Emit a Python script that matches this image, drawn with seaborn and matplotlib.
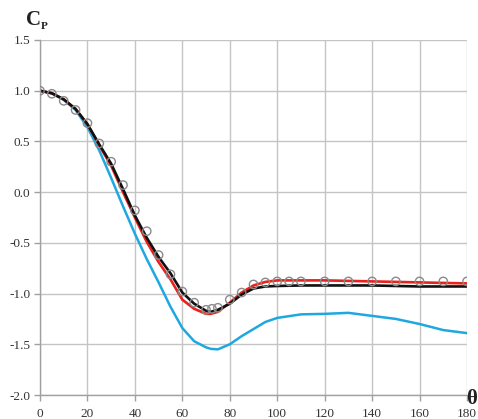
import matplotlib
matplotlib.use("Agg")
import matplotlib.pyplot as plt
import seaborn as sns
import pandas as pd

# ---- data ----
theta_line = [0, 5, 10, 15, 20, 25, 30, 35, 40, 45, 50, 55, 60, 65, 70, 72,
              75, 80, 85, 90, 95, 100, 110, 120, 130, 140, 150, 160, 170, 180]
cp_black = [1.0, 0.975, 0.915, 0.82, 0.67, 0.47, 0.28, 0.03, -0.23, -0.45, -0.64,
            -0.80, -0.99, -1.10, -1.17, -1.18, -1.16, -1.10, -1.01, -0.95, -0.93,
            -0.925, -0.92, -0.92, -0.92, -0.92, -0.925, -0.93, -0.93, -0.93]
cp_red = [1.0, 0.975, 0.915, 0.82, 0.67, 0.46, 0.26, 0.00, -0.25, -0.49, -0.69,
          -0.86, -1.06, -1.15, -1.20, -1.20, -1.18, -1.09, -0.99, -0.92, -0.885,
          -0.87, -0.87, -0.87, -0.875, -0.88, -0.885, -0.89, -0.895, -0.90]
cp_blue = [1.0, 0.975, 0.91, 0.81, 0.64, 0.41, 0.14, -0.14, -0.41, -0.66, -0.89,
           -1.13, -1.34, -1.47, -1.53, -1.545, -1.55, -1.50, -1.42, -1.35, -1.28,
           -1.24, -1.205, -1.20, -1.19, -1.22, -1.25, -1.30, -1.36, -1.39]

theta_exp = [0, 5, 10, 15, 20, 25, 30, 35, 40, 45, 50, 55, 60, 65, 70, 72.5, 75,
             80, 85, 90, 95, 100, 105, 110, 120, 130, 140, 150, 160, 170, 180]
cp_exp = [1.0, 0.97, 0.90, 0.81, 0.68, 0.48, 0.30, 0.07, -0.18, -0.385, -0.62,
          -0.81, -0.98, -1.09, -1.16, -1.15, -1.14, -1.06, -0.99, -0.91, -0.89,
          -0.88, -0.88, -0.88, -0.88, -0.88, -0.88, -0.88, -0.88, -0.88, -0.88]

x_ticks = [0, 20, 40, 60, 80, 100, 120, 140, 160, 180]
y_ticks = [-2.0, -1.5, -1.0, -0.5, 0.0, 0.5, 1.0, 1.5]
y_labels = ["-2.0", "-1.5", "-1.0", "-0.5", "0.0", "0.5", "1.0", "1.5"]

# ---- plot ----
sns.set_style("white")
plt.rcParams["font.family"] = ["Liberation Serif", "DejaVu Serif"]

fig = plt.figure(figsize=(4.78, 4.19), dpi=100)
ax = fig.add_axes([40 / 478, 1 - 395 / 419, 427 / 478, 355 / 419])

lines = pd.DataFrame({"theta": theta_line, "black": cp_black,
                      "red": cp_red, "blue": cp_blue})
exp = pd.DataFrame({"theta": theta_exp, "cp": cp_exp})

sns.lineplot(data=lines, x="theta", y="blue", color="#1fa8e0", lw=1.8, ax=ax)
sns.lineplot(data=lines, x="theta", y="red", color="#e8221c", lw=1.9, ax=ax)
sns.lineplot(data=lines, x="theta", y="black", color="#111111", lw=1.9, ax=ax)
sns.scatterplot(data=exp, x="theta", y="cp", marker="o", s=36,
                facecolors="none", edgecolor="#8a8a8a", linewidth=1.0,
                ax=ax, zorder=4)

ax.set_xlim(0, 180)
ax.set_ylim(-2.0, 1.5)
ax.set_xticks(x_ticks)
ax.set_xticklabels([str(v) for v in x_ticks])
ax.set_yticks(y_ticks)
ax.set_yticklabels(y_labels)
ax.grid(True, color="#c4c4c4", lw=1.0)
ax.set_axisbelow(True)
for s in ["top", "right"]:
    ax.spines[s].set_visible(False)
for s in ["left", "bottom"]:
    ax.spines[s].set_color("#a0a0a0")
    ax.spines[s].set_linewidth(1.0)
ax.tick_params(axis="both", direction="out", length=4, width=1.0,
               color="#a0a0a0", labelsize=9.5, labelcolor="#333333",
               left=True, bottom=True)
ax.tick_params(axis="x", pad=5)
ax.tick_params(axis="y", pad=3)
ax.set_xlabel("")
ax.set_ylabel("")

fig.text(26 / 478, 1 - 25 / 419, "C", fontsize=15, fontweight="bold",
         color="#222222", ha="left", va="baseline")
fig.text(41 / 478, 1 - 29 / 419, "P", fontsize=8, fontweight="bold",
         color="#222222", ha="left", va="baseline")
fig.text(466 / 478, 1 - 404 / 419, "θ", fontsize=15, fontweight="bold",
         color="#222222", ha="left", va="baseline")

fig.savefig("out.png", dpi=100)
